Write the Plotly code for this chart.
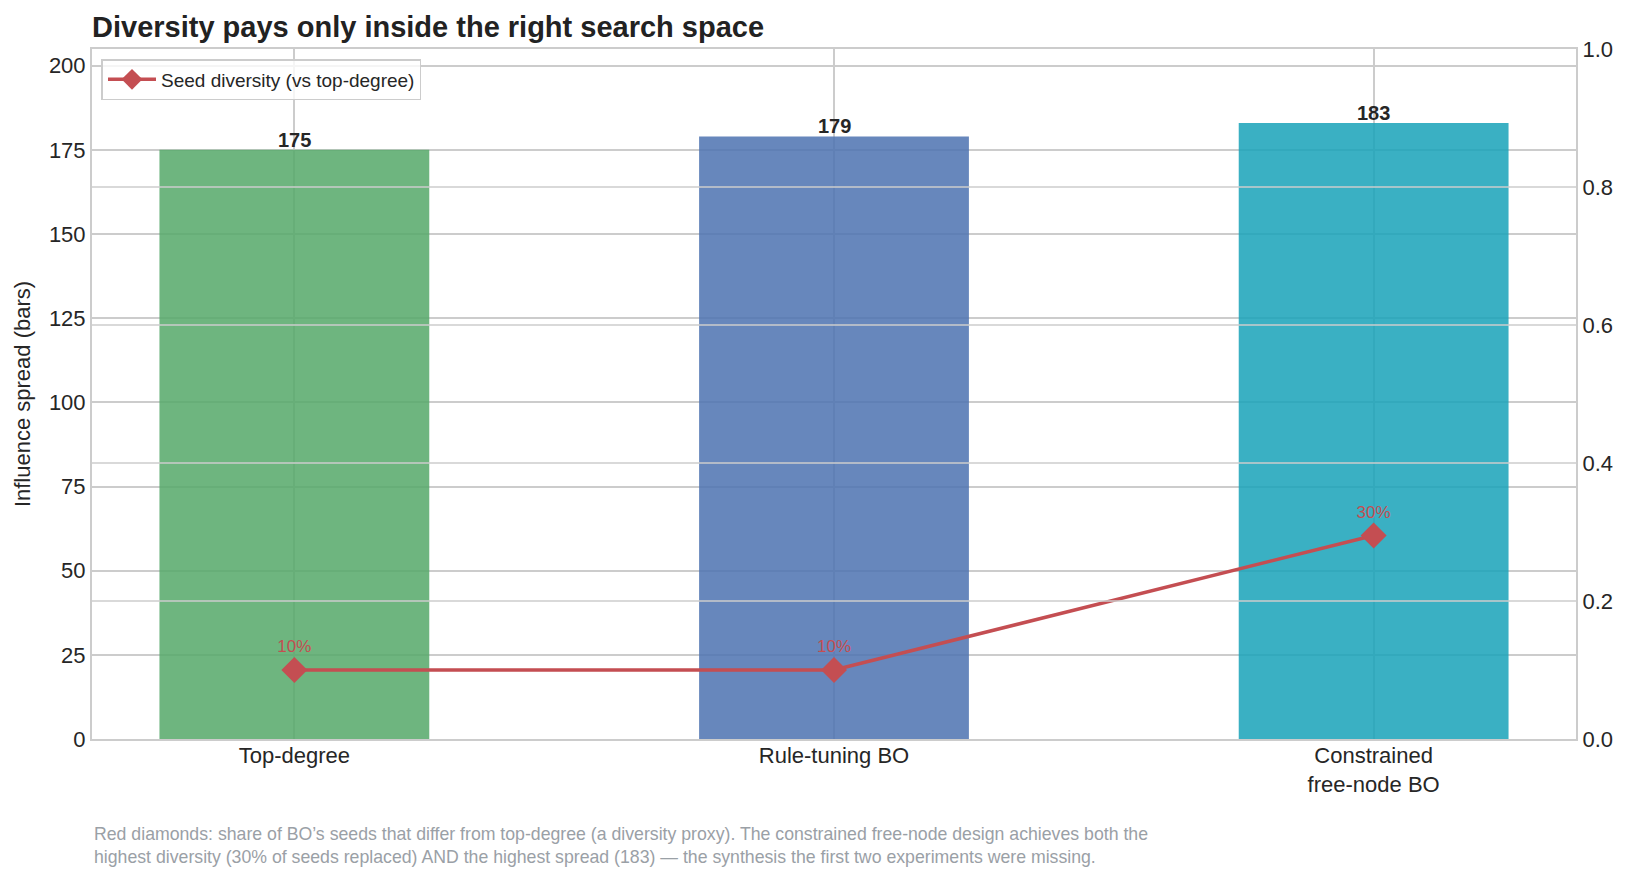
import plotly.graph_objects as go

categories = ["Top-degree", "Rule-tuning BO", "Constrained<br>free-node BO"]
spread = [175, 179, 183]
diversity = [0.10, 0.10, 0.295]
diversity_labels = ["10%", "10%", "30%"]
bar_colors = ["#55a868", "#4c72b0", "#17a2b8"]
left_ticks = [0, 25, 50, 75, 100, 125, 150, 175, 200]
right_ticks = [0.0, 0.2, 0.4, 0.6, 0.8, 1.0]
title_text = "Diversity pays only inside the right search space"
legend_name = "Seed diversity (vs top-degree)"
caption = ("Red diamonds: share of BO’s seeds that differ from top-degree (a diversity proxy). "
           "The constrained free-node design achieves both the<br>"
           "highest diversity (30% of seeds replaced) AND the highest spread (183) — "
           "the synthesis the first two experiments were missing.")

FONT = "Liberation Sans"
GRID = "#cccccc"
TXT = "#262626"
RED = "#c44e52"

fig = go.Figure()
fig.add_trace(go.Bar(
    x=categories, y=spread, width=0.5,
    marker=dict(color=bar_colors, opacity=0.85, line=dict(width=0)),
    showlegend=False, yaxis="y", hoverinfo="x+y",
))
fig.add_trace(go.Scatter(
    x=categories, y=diversity, yaxis="y2", name=legend_name,
    mode="lines+markers+text",
    line=dict(color=RED, width=3.5),
    marker=dict(symbol="diamond", size=20, color=RED),
    text=diversity_labels, textposition="top center",
    textfont=dict(family=FONT, size=17, color=RED),
    cliponaxis=False,
))

# right-axis grid drawn above the bars
for t in right_ticks[1:-1]:
    fig.add_shape(type="line", xref="paper", x0=0, x1=1, yref="y2", y0=t, y1=t,
                  line=dict(color=GRID, width=1.5), layer="above")

annotations = []
for c, v in zip(categories, spread):
    annotations.append(dict(x=c, y=v, xref="x", yref="y", text=str(v), showarrow=False,
                            yanchor="middle", yshift=10,
                            font=dict(family=FONT, size=20, color=TXT, weight="bold")))
annotations.append(dict(text=caption, xref="paper", yref="paper", x=0, y=(739 - 845) / 690,
                        xanchor="left", yanchor="middle", align="left", showarrow=False,
                        font=dict(family=FONT, size=17.7, color="#9aa0a6")))

fig.update_layout(
    width=1630, height=880,
    margin=dict(l=92, r=54, t=49, b=141),
    paper_bgcolor="white", plot_bgcolor="white",
    font=dict(family=FONT, size=22, color=TXT),
    title=dict(text=title_text, x=0, xref="paper", xanchor="left",
               y=1 - 27 / 880, yref="container", yanchor="middle",
               font=dict(family=FONT, size=29, color="#222222", weight="bold")),
    xaxis=dict(range=[-0.375, 2.375], showgrid=True, gridcolor=GRID, gridwidth=1.5,
               showline=True, linecolor=GRID, linewidth=2, mirror=True,
               ticks="", ticklabelstandoff=-4,
               tickfont=dict(size=22, color=TXT), zeroline=False),
    yaxis=dict(range=[0, 183 * 1.12], tickvals=left_ticks, showgrid=True,
               gridcolor=GRID, gridwidth=1.5, showline=True, linecolor=GRID,
               linewidth=2, mirror=True, ticks="", zeroline=False,
               tickfont=dict(size=22, color=TXT),
               title=dict(text="Influence spread (bars)", standoff=12,
                          font=dict(size=22, color=TXT))),
    yaxis2=dict(range=[0, 1], tickvals=right_ticks, tickformat=".1f",
                overlaying="y", side="right", showgrid=False, zeroline=False,
                showline=True, linecolor=GRID, linewidth=2, ticks="",
                tickfont=dict(size=22, color=TXT)),
    legend=dict(x=0.0064, y=0.9855, xanchor="left", yanchor="top",
                bgcolor="rgba(255,255,255,0.8)", bordercolor=GRID, borderwidth=1.5,
                itemwidth=48,
                font=dict(family=FONT, size=19, color=TXT)),
    showlegend=True,
    annotations=annotations,
)

fig.write_html("out.html")
